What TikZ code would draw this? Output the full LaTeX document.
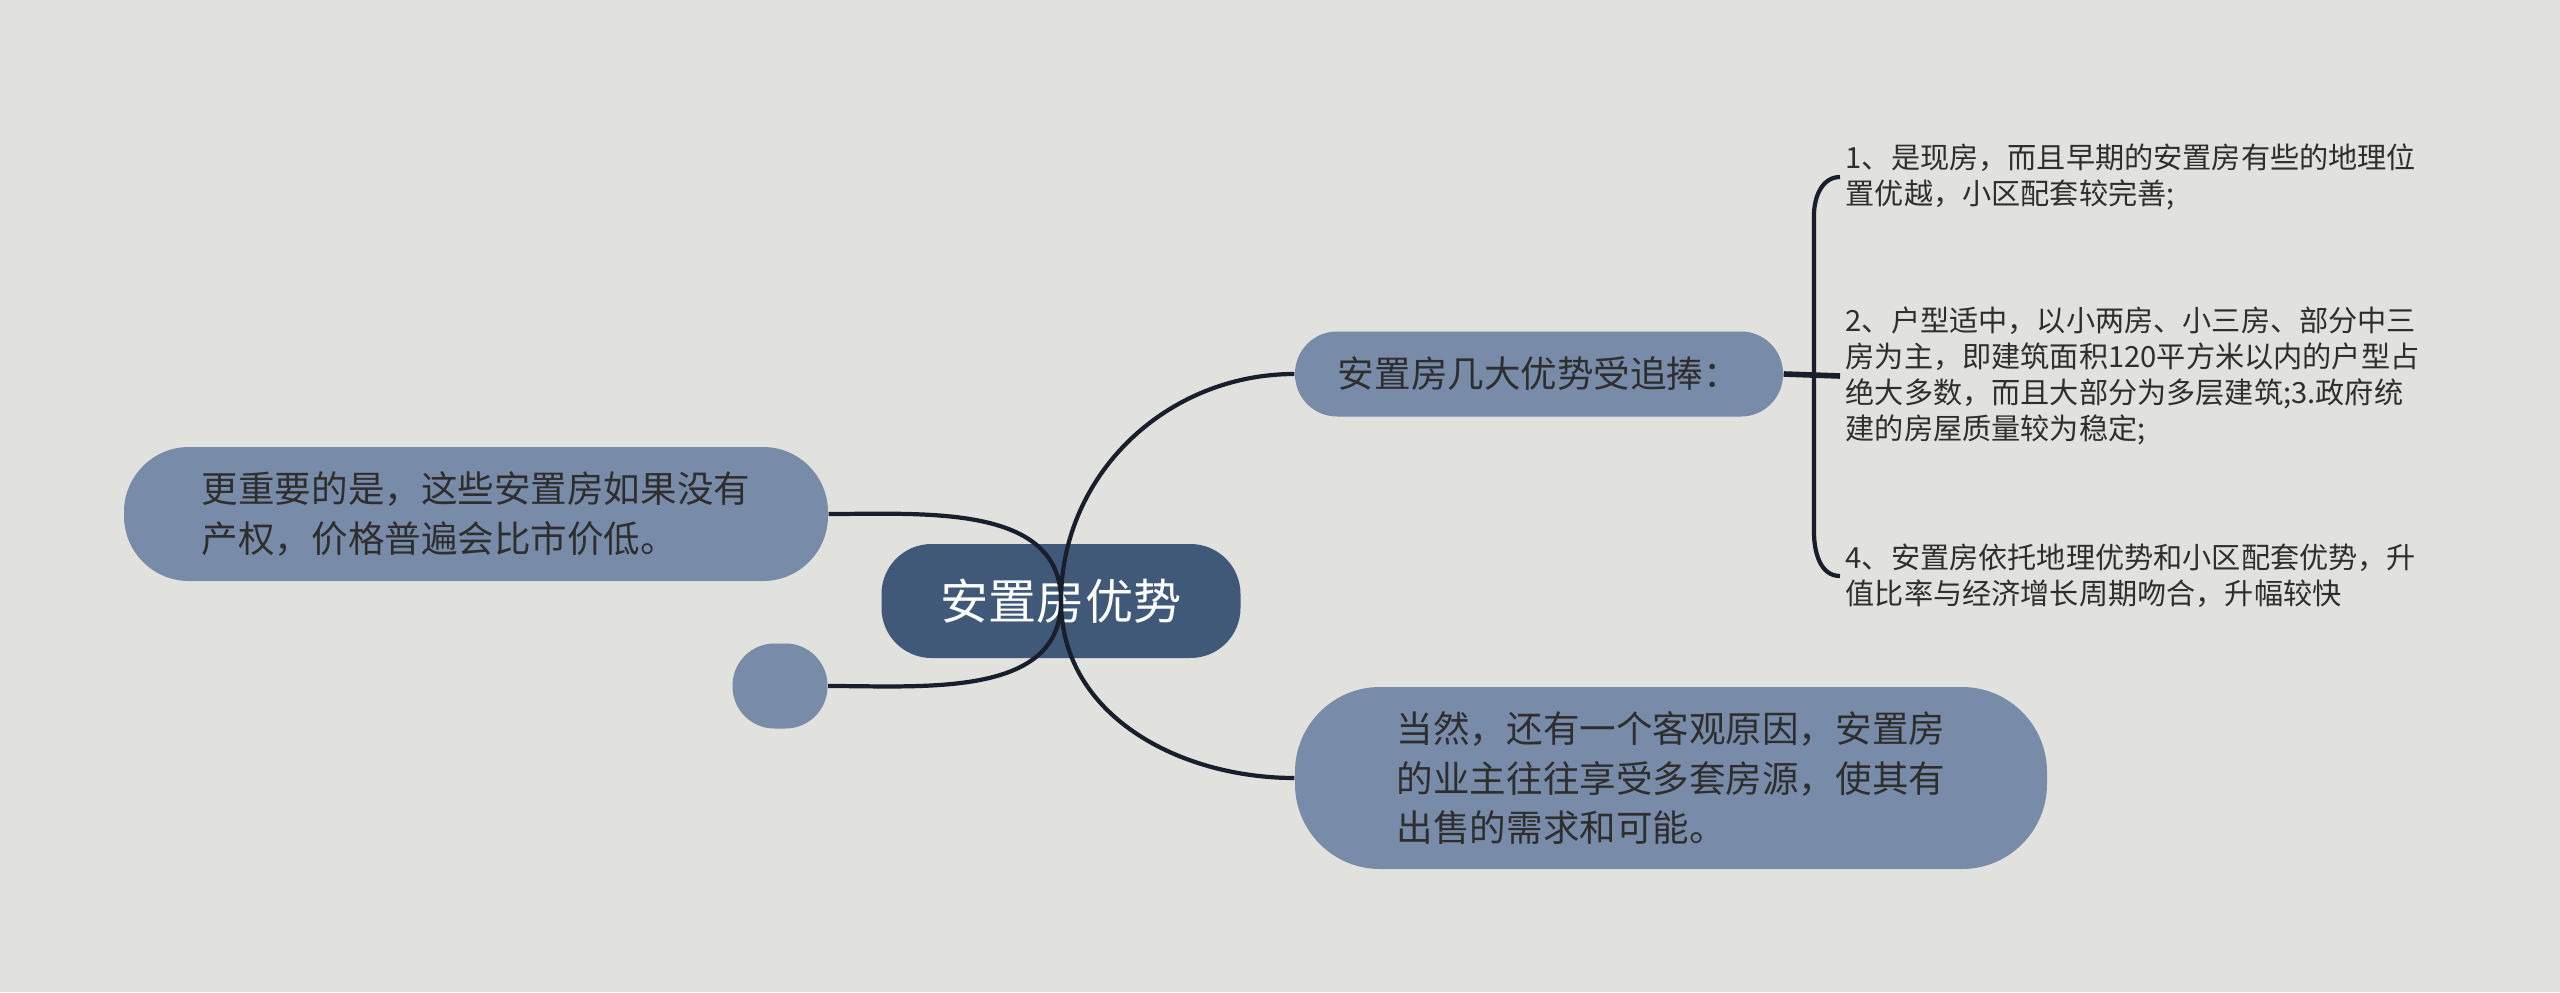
\documentclass[tikz,border=0pt]{standalone}
\usepackage{fontspec}
\setmainfont{Noto Sans CJK SC}
\definecolor{bgcol}{RGB}{225,226,221}
\definecolor{rootcol}{RGB}{65,89,120}
\definecolor{topiccol}{RGB}{120,139,168}
\definecolor{linkcol}{RGB}{24,30,44}
\definecolor{txtcol}{RGB}{46,46,46}
\begin{document}
\begin{tikzpicture}[
  topic/.style={fill=topiccol, text=txtcol, align=left, inner sep=0pt},
  leaf/.style={text=txtcol, align=left, anchor=west, inner sep=0.5mm, font=\fontsize{8.3}{10.2}\selectfont},
  link/.style={draw=linkcol, line width=1.2pt}]
\fill[bgcol] (0,0) rectangle (25.6,9.92);
\useasboundingbox (0,0) rectangle (25.6,9.92);
\node[fill=rootcol, text=white, rounded corners=0.5cm, minimum width=3.59cm, minimum height=1.14cm, font=\fontsize{13.7}{16}\selectfont] (root) at (10.61,3.91) {安置房优势};
\node[topic, rounded corners=0.42cm, minimum width=4.88cm, minimum height=0.85cm, font=\fontsize{10.4}{13}\selectfont] (adv) at (15.39,6.18) {安置房几大优势受追捧：};
\node[topic, rounded corners=0.85cm, minimum width=7.52cm, minimum height=1.82cm, font=\fontsize{10.4}{14}\selectfont] (own) at (16.71,2.14) {当然，还有一个客观原因，安置房\\的业主往往享受多套房源，使其有\\出售的需求和可能。};
\node[topic, rounded corners=0.65cm, minimum width=7.04cm, minimum height=1.34cm, font=\fontsize{10.4}{14.4}\selectfont] (price) at (4.76,4.78) {更重要的是，这些安置房如果没有\\产权，价格普遍会比市价低。};
\node[topic, rounded corners=0.42cm, minimum width=0.95cm, minimum height=0.85cm] (empty) at (7.80,3.06) {};
\node[leaf] (pt1) at (18.40,8.15) {1、是现房，而且早期的安置房有些的地理位\\置优越，小区配套较完善;};
\node[leaf] (pt2) at (18.40,6.16) {2、户型适中，以小两房、小三房、部分中三\\房为主，即建筑面积120平方米以内的户型占\\绝大多数，而且大部分为多层建筑;3.政府统\\建的房屋质量较为稳定;};
\node[leaf] (pt3) at (18.40,4.16) {4、安置房依托地理优势和小区配套优势，升\\值比率与经济增长周期吻合，升幅较快};
\coordinate (btop) at (18.14,7.77);
\coordinate (bbot) at (18.14,4.60);
% branches from the root
\draw[link] (root.center) to[out=90,in=180] (adv.west);
\draw[link] (root.center) to[out=-90,in=180] (own.west);
\draw[link] (root.center) to[out=90,in=0] (price.east);
\draw[link] (root.center) to[out=-90,in=0] (empty.east);
% brace for the points
\draw[link, line width=1.6pt] (adv.east) -- (pt2.west);
\draw[link] (pt1.west) to[out=180,in=90] (btop) -- (bbot) to[out=-90,in=180] (pt3.west);
\end{tikzpicture}
\end{document}
